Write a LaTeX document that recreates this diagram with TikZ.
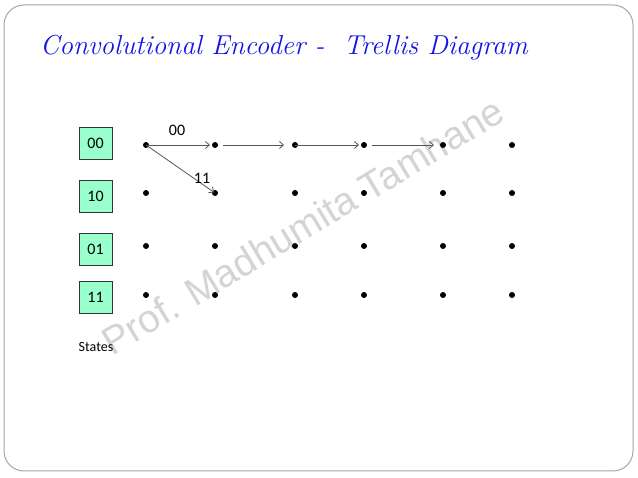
\documentclass[tikz,border=0pt]{standalone}
\usepackage{fontspec}
\setmainfont{Carlito}
\newfontfamily\wmfont{Liberation Sans}
\newfontfamily\titlefont{Latin Modern Roman}
\usetikzlibrary{arrows.meta}
\definecolor{boxgreen}{RGB}{153,255,204}
\definecolor{titleblue}{RGB}{20,20,230}
\definecolor{arrowgray}{RGB}{85,85,85}
\definecolor{wmgray}{RGB}{212,212,212}
\tikzset{
  statebox/.style={draw=black!80,line width=0.6pt,fill=boxgreen,minimum width=33pt,minimum height=32pt,inner sep=0pt,font=\fontsize{16}{18}\selectfont},
  dot/.style={circle,fill=black,inner sep=0pt,minimum size=6pt},
  trans/.style={draw=arrowgray,line width=0.8pt,-{Straight Barb[length=4pt,width=7pt]}},
  lbl/.style={font=\fontsize{16}{18}\selectfont,inner sep=0pt}
}
\begin{document}
\begin{tikzpicture}[x=1pt,y=-1pt]
\useasboundingbox (0,0) rectangle (638,478);
\fill[white] (0,0) rectangle (638,478);
\draw[gray!70,line width=1pt,rounded corners=20pt] (4,5) rectangle (633,471);
\node[text=titleblue,font=\titlefont\itshape\fontsize{27.4}{30}\selectfont,anchor=base west,inner sep=0pt] (title) at (40,55) {Convolutional Encoder -\ \ Trellis Diagram};
\node[text=wmgray,font=\wmfont\fontsize{39}{40}\selectfont,rotate=31,anchor=base west,inner sep=0pt] (wm) at (112,357) {Prof. Madhumita Tamhane};
\node[statebox] (s00) at (95.5,143) {00};
\node[statebox] (s10) at (95.5,196.5) {10};
\node[statebox] (s01) at (95.5,249) {01};
\node[statebox] (s11) at (95.5,297.5) {11};
\node[font=\fontsize{14}{16}\selectfont,inner sep=0pt] (states) at (96,347) {States};
\foreach \c/\x in {1/146,2/215,3/295,4/364,5/443,6/512}{
  \foreach \r/\y in {1/145,2/193,3/246,4/295}{
    \node[dot] (d\c\r) at (\x,\y) {};
  }
}
\draw[trans,shorten >=5pt] (d11.center) -- (d21.center);
\draw[trans,shorten <=8pt,shorten >=11pt] (d21.center) -- (d31.center);
\draw[trans,shorten >=5pt] (d31.center) -- (d41.center);
\draw[trans,shorten <=8pt,shorten >=9pt] (d41.center) -- (d51.center);
\draw[trans,shorten >=1pt] (d11.center) -- (d22.center);
\node[lbl] (l00) at (177,130) {00};
\node[lbl] (l11) at (202,178) {11};
\end{tikzpicture}
\end{document}
